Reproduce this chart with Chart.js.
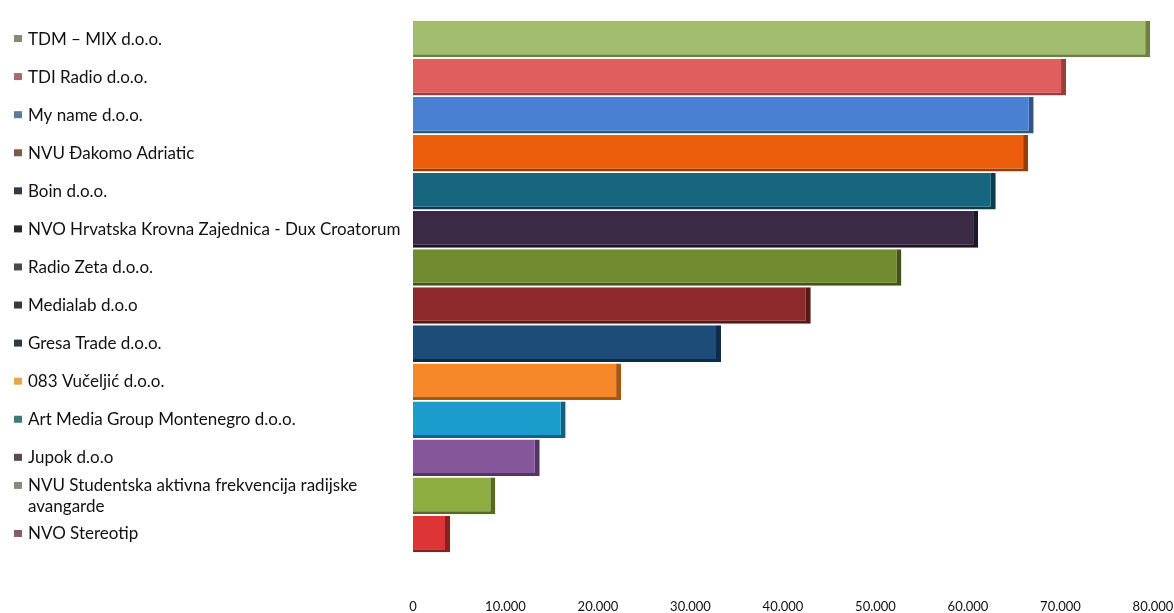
<!DOCTYPE html>
<html>
<head>
<meta charset="utf-8">
<script src="https://cdn.jsdelivr.net/npm/chart.js@4"></script>
<style>
    html, body { margin: 0; padding: 0; background: #fff; }
    .chart-box { width: 1174px; height: 613px; position: relative; }
</style>
</head>
<body>
<div class="chart-box"><canvas id="myChart"></canvas></div>
<script>
const companies = [
    'TDM – MIX d.o.o.',
    'TDI Radio d.o.o.',
    'My name d.o.o.',
    'NVU Đakomo Adriatic',
    'Boin d.o.o.',
    'NVO Hrvatska Krovna Zajednica - Dux Croatorum',
    'Radio Zeta d.o.o.',
    'Medialab d.o.o',
    'Gresa Trade d.o.o.',
    '083 Vučeljić d.o.o.',
    'Art Media Group Montenegro d.o.o.',
    'Jupok d.o.o',
    ['NVU Studentska aktivna frekvencija radijske', 'avangarde'],
    'NVO Stereotip'
];
const amounts = [79700, 70600, 67100, 66500, 63000, 61100, 52800, 43000, 33300, 22500, 16500, 13700, 8900, 4000];
const xTicks = [0, 10000, 20000, 30000, 40000, 50000, 60000, 70000, 80000];

const barColors = ['#a3bd6e', '#df5f5f', '#4a80d2', '#ec5e0c', '#17667f', '#3b2a45', '#718b30', '#8e2a2c', '#1d4c78', '#f7882a', '#1a9dcc', '#85569a', '#8eae42', '#dd3437'];
const sideColors = ['#6f7f45', '#9e3b3b', '#2e5488', '#9a3c06', '#0c3b4a', '#1f1525', '#445419', '#561819', '#0f2c47', '#a75714', '#0f6283', '#553568', '#566a23', '#8e1f21'];
const markerColors = ['#8a8a72', '#a56b72', '#5f7a9a', '#7a5a48', '#353a42', '#2a2a2a', '#4a4a4a', '#3a3a3a', '#2f3a44', '#e2a84a', '#3f7a7a', '#5a4a48', '#8a8a78', '#8a5a6a'];

// little coloured squares in front of each name, like the excel legend
const legendMarkers = {
    id: 'legendMarkers',
    afterDraw(chart) {
        const ctx = chart.ctx;
        const y = chart.scales.y;
        ctx.save();
        companies.forEach(function (c, i) {
            let py = y.getPixelForTick(i);
            if (Array.isArray(c)) { py -= 10; }
            ctx.fillStyle = markerColors[i];
            ctx.fillRect(14, py - 4, 8, 7);
        });
        ctx.restore();
    }
};

const ctx = document.getElementById('myChart');
new Chart(ctx, {
    type: 'bar',
    data: {
        labels: companies,
        datasets: [{
            data: amounts,
            backgroundColor: barColors,
            borderColor: sideColors,
            borderWidth: {top: 0, right: 5, bottom: 3, left: 0},
            borderSkipped: false,
            barPercentage: 0.96,
            categoryPercentage: 1.0
        }]
    },
    options: {
        indexAxis: 'y',
        responsive: true,
        maintainAspectRatio: false,
        animation: false,
        layout: { padding: { left: 28, top: 20, right: 0, bottom: 0 } },
        plugins: {
            legend: { display: false },
            tooltip: { enabled: false }
        },
        scales: {
            x: {
                min: 0,
                max: 80000,
                afterBuildTicks: function (scale) {
                    scale.ticks = xTicks.map(v => ({value: v}));
                },
                afterFit: function (scale) {
                    scale.height = 60;
                    scale.paddingRight = 21;
                },
                grid: { display: false },
                border: { display: false },
                ticks: {
                    padding: 38,
                    color: '#111',
                    font: { family: 'Lato', size: 13 },
                    maxRotation: 0,
                    callback: function (v) { return v.toLocaleString('de-DE'); }
                }
            },
            y: {
                grid: { display: false },
                border: { display: false },
                afterFit: function (scale) { scale.width = 385; },
                ticks: {
                    crossAlign: 'far',
                    color: '#111',
                    font: { family: 'Lato', size: 17 },
                    autoSkip: false
                }
            }
        }
    },
    plugins: [legendMarkers]
});
</script>
</body>
</html>
